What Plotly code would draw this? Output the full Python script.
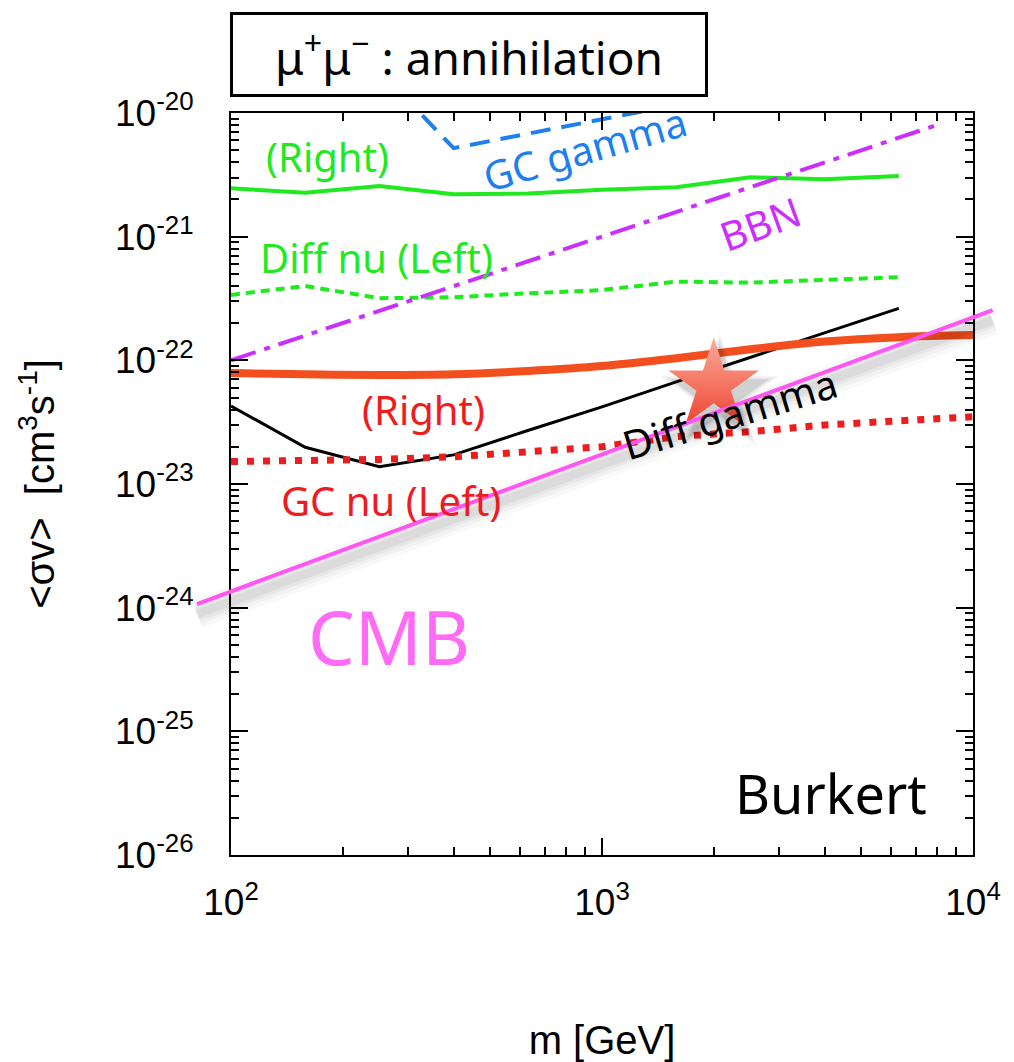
import plotly.graph_objects as go

# ---------------- data ----------------
mass = [100, 158.5, 251.2, 398.1, 631.0, 1000, 1585, 2512, 3981, 6310]
mass_ext = [100, 158.5, 251.2, 398.1, 631.0, 1000, 1585, 2512, 3981, 6310, 10000]

diff_nu_right = [2.46e-21, 2.27e-21, 2.57e-21, 2.20e-21, 2.23e-21, 2.39e-21, 2.51e-21, 3.02e-21, 2.91e-21, 3.10e-21]
diff_nu_left = [3.38e-22, 3.99e-22, 3.18e-22, 3.24e-22, 3.48e-22, 3.70e-22, 4.33e-22, 4.25e-22, 4.47e-22, 4.70e-22]
diff_gamma = [4.27e-23, 1.98e-23, 1.38e-23, 1.72e-23, 2.71e-23, 4.2e-23, 6.7e-23, 1.06e-22, 1.66e-22, 2.63e-22]
gc_nu_right = [7.9e-23, 7.7e-23, 7.6e-23, 7.7e-23, 8.2e-23, 9.0e-23, 1.04e-22, 1.23e-22, 1.42e-22, 1.54e-22, 1.60e-22]
gc_nu_left = [1.52e-23, 1.54e-23, 1.58e-23, 1.66e-23, 1.80e-23, 2.0e-23, 2.42e-23, 2.65e-23, 3.0e-23, 3.26e-23, 3.5e-23]

gc_gamma_mass = [251.2, 398.1, 1000, 1585]
gc_gamma = [2.2e-20, 5.2e-21, 8.9e-21, 1.16e-20]

bbn_mass = [100, 8000]
bbn = [1.0e-22, 8.0e-21]

cmb_mass = [81, 11300]
cmb = [1.07e-24, 2.55e-22]

star_mass = [2000]
star_sv = [6.3e-23]

y_tickvals = [1e-26, 1e-25, 1e-24, 1e-23, 1e-22, 1e-21, 1e-20]
y_ticktext = ["10<sup>-26</sup>", "10<sup>-25</sup>", "10<sup>-24</sup>", "10<sup>-23</sup>",
              "10<sup>-22</sup>", "10<sup>-21</sup>", "10<sup>-20</sup>"]
x_tickvals = [100, 1000, 10000]
x_ticktext = ["10<sup>2</sup>", "10<sup>3</sup>", "10<sup>4</sup>"]

# ---------------- layout geometry ----------------
W, H = 1014, 1062
ML, MR, MT, MB = 190, 14, 113, 207
AX_L, AX_R = 231, 973
PW = W - ML - MR
PH = H - MT - MB
XLOG = [2, 4]
YLOG = [-26, -20]
k = (XLOG[1] - XLOG[0]) / (AX_R - AX_L)
x2_range = [XLOG[0] - (AX_L - ML) * k, XLOG[1] + (W - MR - AX_R) * k]

# drop-shadow offset (style): shift down/right a few pixels in log units
SHADOW_DY = 10 ** (-10 / 123.7)
SHADOW_DX = 10 ** (6 / 371)


def px_x(px):
    return (px - ML) / PW


def px_y(py):
    return (H - MB - py) / PH


GREEN = "#1FEA1F"
RED = "#EE1C1C"
ORANGE = "#F24E1E"
PURPLE = "#CC2EFF"
BLUE = "#1E7FEE"
MAGENTA = "#FF55F2"

fig = go.Figure()

fig.add_trace(go.Scatter(x=mass, y=diff_nu_right, mode="lines",
                         line=dict(color=GREEN, width=4), name="Diff nu (Right)"))
fig.add_trace(go.Scatter(x=mass, y=diff_nu_left, mode="lines",
                         line=dict(color=GREEN, width=4, dash="9px,6px"), name="Diff nu (Left)"))
fig.add_trace(go.Scatter(x=bbn_mass, y=bbn, mode="lines",
                         line=dict(color=PURPLE, width=4, dash="26px,9px,6px,9px"), name="BBN"))
fig.add_trace(go.Scatter(x=gc_gamma_mass, y=gc_gamma, mode="lines",
                         line=dict(color=BLUE, width=4, dash="20px,11px"), name="GC gamma"))
fig.add_trace(go.Scatter(x=mass, y=diff_gamma, mode="lines",
                         line=dict(color="black", width=3), name="Diff gamma"))
fig.add_trace(go.Scatter(x=mass_ext, y=gc_nu_right, mode="lines", line_shape="spline",
                         line=dict(color=ORANGE, width=8), name="GC nu (Right)"))
fig.add_trace(go.Scatter(x=mass_ext, y=gc_nu_left, mode="lines",
                         line=dict(color=RED, width=7, dash="7px,9px"), name="GC nu (Left)"))

# star with soft shadow
for sz, op in [(90, 0.04), (82, 0.06), (74, 0.09)]:
    fig.add_trace(go.Scatter(x=[m * SHADOW_DX for m in star_mass], y=[v * SHADOW_DY for v in star_sv],
                             mode="markers", hoverinfo="skip",
                             marker=dict(symbol="star", size=sz, color="black", opacity=op,
                                         line=dict(width=0)),
                             name="star shadow"))
fig.add_trace(go.Scatter(x=star_mass, y=star_sv, mode="markers",
                         marker=dict(symbol="star", size=68, color="#FCAC9A",
                                     gradient=dict(type="vertical", color="#EE4634"),
                                     line=dict(width=0)),
                         name="star"))

# CMB line (with soft shadow) drawn on an overlay axis that extends past the frame (same scale)
for wd, op in [(30, 0.025), (22, 0.03), (15, 0.04), (9, 0.05)]:
    fig.add_trace(go.Scatter(x=cmb_mass, y=[v * SHADOW_DY for v in cmb], mode="lines",
                             xaxis="x2", yaxis="y", hoverinfo="skip",
                             line=dict(color="rgba(0,0,0,%.3f)" % op, width=wd), name="CMB shadow"))
fig.add_trace(go.Scatter(x=cmb_mass, y=cmb, mode="lines", xaxis="x2", yaxis="y",
                         line=dict(color=MAGENTA, width=4), name="CMB"))

axis_common = dict(showline=True, linewidth=2, linecolor="black", mirror="ticks",
                   ticks="inside", tickwidth=1.5, tickcolor="black", showgrid=False,
                   zeroline=False,
                   tickfont=dict(family="Liberation Sans, Arial, sans-serif", size=37, color="black"))

fig.update_layout(
    width=W, height=H,
    margin=dict(l=ML, r=MR, t=MT, b=MB, autoexpand=False),
    paper_bgcolor="white", plot_bgcolor="rgba(0,0,0,0)",
    showlegend=False,
    xaxis=dict(type="log", range=XLOG, domain=[px_x(AX_L), px_x(AX_R)],
               tickmode="array", tickvals=x_tickvals, ticktext=x_ticktext,
               ticklen=17, ticklabelstandoff=14,
               minor=dict(ticks="inside", ticklen=8, tickwidth=1.5, tickcolor="black", dtick="D1"),
               title=dict(text="m [GeV]", font=dict(family="Liberation Sans, Arial, sans-serif", size=40, color="black"),
                          standoff=104),
               **axis_common),
    yaxis=dict(type="log", range=YLOG, domain=[0, 1],
               tickmode="array", tickvals=y_tickvals, ticktext=y_ticktext,
               ticklen=17, ticklabelstandoff=28,
               minor=dict(ticks="inside", ticklen=8, tickwidth=1.5, tickcolor="black", dtick="D1"),
               title=dict(text="&lt;σv&gt;&nbsp;&nbsp;[cm<sup>3</sup>s<sup>-1</sup>]",
                          font=dict(family="Liberation Sans, Arial, sans-serif", size=40, color="black"),
                          standoff=48),
               **axis_common),
    xaxis2=dict(type="log", range=x2_range, domain=[0, 1], anchor="y", visible=False,
                showgrid=False, zeroline=False),
)

LBL = "Noto Sans, Liberation Sans, sans-serif"
labels = [
    ("(Right)", 2.259, -20.348, GREEN, 40, 0),
    ("GC gamma", 2.954, -20.283, BLUE, 40, -16),
    ("BBN", 3.426, -20.897, PURPLE, 40, -20),
    ("Diff nu (Left)", 2.391, -21.172, GREEN, 40, 0),
    ("(Right)", 2.520, -22.401, RED, 40, 0),
    ("GC nu (Left)", 2.431, -23.137, RED, 40, 0),
    ("Diff gamma", 3.345, -22.433, "black", 40, -17),
    ("CMB", 2.426, -24.236, "#FF6BF5", 74, 0),
    ("Burkert", 3.617, -25.497, "black", 54, 0),
]
for txt, lx, ly, col, sz, ang in labels:
    fig.add_annotation(x=lx, y=ly, xref="x", yref="y", text=txt, showarrow=False,
                       textangle=ang, font=dict(family=LBL, size=sz, color=col),
                       xanchor="center", yanchor="middle")

# title box
fig.add_annotation(xref="paper", yref="paper", x=px_x(230), y=px_y(12),
                   xanchor="left", yanchor="top", showarrow=False,
                   text="μ<sup>+</sup>μ<sup>−</sup> : annihilation",
                   font=dict(family=LBL, size=46, color="black"),
                   bordercolor="black", borderwidth=3, borderpad=0, bgcolor="white",
                   width=472, height=79, align="center", valign="middle")

fig.write_html("out.html", config={"displayModeBar": False},
               post_script="document.body.style.margin='0';")
